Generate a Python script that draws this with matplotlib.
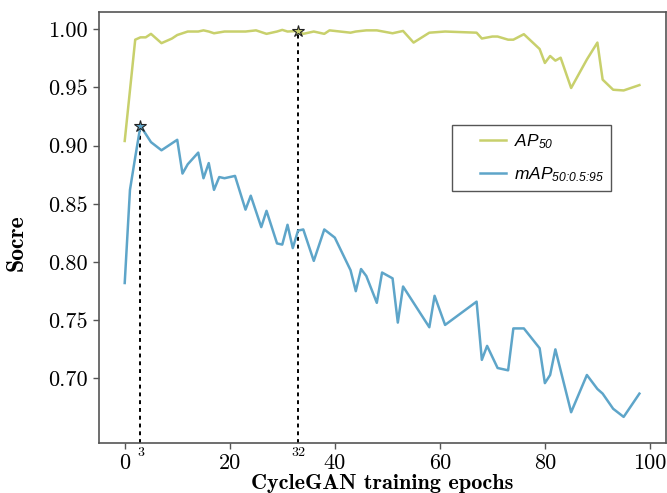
import matplotlib
matplotlib.use("Agg")
import matplotlib.pyplot as plt
from matplotlib.lines import Line2D
from matplotlib.legend_handler import HandlerLine2D
from matplotlib.ticker import FormatStrFormatter

# AP50 curve (epoch, score)
ap_epochs = [0, 2, 3, 4, 5, 7, 9, 10, 12, 14, 15, 16, 17, 19, 23, 25, 27, 29, 30, 31,
             33, 34, 36, 38, 39, 41, 43, 44, 46, 48, 51, 53, 55, 58, 61, 67, 68, 70, 71,
             73, 74, 76, 79, 80, 81, 82, 83, 85, 88, 90, 91, 93, 95, 98]
ap_scores = [0.904, 0.991, 0.993, 0.993, 0.996, 0.988, 0.992, 0.995, 0.998, 0.998, 0.999,
             0.998, 0.9965, 0.998, 0.998, 0.999, 0.996, 0.998, 0.9994, 0.998, 0.9985, 0.996,
             0.998, 0.996, 0.999, 0.998, 0.997, 0.998, 0.999, 0.999, 0.9965, 0.9985, 0.9885,
             0.997, 0.998, 0.997, 0.992, 0.9937, 0.9937, 0.991, 0.991, 0.9957, 0.983, 0.971,
             0.977, 0.973, 0.9755, 0.9495, 0.974, 0.9885, 0.9567, 0.948, 0.9474, 0.952]

# mAP50:0.5:95 curve
map_epochs = [0, 1, 2, 3, 5, 7, 10, 11, 12, 14, 15, 16, 17, 18, 19, 21, 23, 24, 26, 27, 29,
              30, 31, 32, 33, 34, 36, 38, 40, 43, 44, 45, 46, 48, 49, 51, 52, 53, 58, 59, 61,
              67, 68, 69, 71, 73, 74, 76, 79, 80, 81, 82, 85, 88, 90, 91, 93, 95, 98]
map_scores = [0.782, 0.862, 0.890, 0.917, 0.903, 0.896, 0.905, 0.876, 0.884, 0.894, 0.872,
              0.885, 0.862, 0.873, 0.872, 0.874, 0.845, 0.857, 0.830, 0.844, 0.816, 0.815,
              0.832, 0.812, 0.827, 0.828, 0.801, 0.828, 0.821, 0.793, 0.775, 0.794, 0.788,
              0.765, 0.791, 0.786, 0.748, 0.779, 0.744, 0.771, 0.746, 0.766, 0.716, 0.728,
              0.709, 0.707, 0.743, 0.743, 0.726, 0.696, 0.703, 0.725, 0.671, 0.703, 0.691,
              0.687, 0.674, 0.667, 0.687]

# best points: (x position, score, tick text)
best_map = (3, 0.917, "3")
best_ap = (33, 0.9985, "32")

YELLOW = "#c8d06c"
BLUE = "#5ea5c9"
FRAME = "#555555"


def main() -> None:
    plt.rcParams["mathtext.fontset"] = "custom"
    plt.rcParams["mathtext.it"] = "Liberation Sans:italic"
    plt.rcParams["mathtext.rm"] = "Liberation Sans:italic"

    fig = plt.figure(figsize=(6.67, 4.93), dpi=100)
    ax = fig.add_axes([0.148, 0.1024, 0.850, 0.8738])

    ax.plot(ap_epochs, ap_scores, color=YELLOW, lw=1.8, label=r"$AP_{\text{50}}$")
    ax.plot(map_epochs, map_scores, color=BLUE, lw=1.8, label=r"$mAP_{\text{50:0.5:95}}$")

    ymin, ymax = 0.645, 1.015
    for (bx, by, _), col in [(best_map, BLUE), (best_ap, YELLOW)]:
        ax.plot([bx, bx], [ymin, by], color="black", lw=1.4, ls=(0, (2, 2)), zorder=1)
        ax.plot(bx, by, marker="*", ms=9, mfc=col, mec="#222222", mew=0.8, zorder=3)

    ax.set_xlim(-4.95, 103.0)
    ax.set_ylim(ymin, ymax)
    ax.set_xticks([0, 20, 40, 60, 80, 100])
    ax.set_yticks([0.70, 0.75, 0.80, 0.85, 0.90, 0.95, 1.00])
    ax.yaxis.set_major_formatter(FormatStrFormatter("%.2f"))
    ax.set_xticks([best_map[0], best_ap[0]], minor=True)
    ax.set_xticklabels([best_map[2], best_ap[2]], minor=True)

    for lab in ax.get_xticklabels() + ax.get_yticklabels():
        lab.set_fontfamily("cmr10")
    for lab in ax.get_xticklabels(minor=True):
        lab.set_fontfamily("cmr10")
    ax.tick_params(which="major", labelsize=16, length=4, width=1, color=FRAME, pad=4)
    ax.tick_params(axis="x", which="minor", labelsize=10, length=0, pad=3)
    for sp in ax.spines.values():
        sp.set_color(FRAME)
        sp.set_linewidth(1.2)

    ax.set_xlabel("CycleGAN training epochs", fontfamily="cmb10", fontsize=16)
    ax.xaxis.set_label_coords(0.5, -0.072)
    ax.set_ylabel("Socre", fontfamily="cmb10", fontsize=17)
    ax.yaxis.set_label_coords(-0.125, 0.463)

    leg = ax.legend(loc="upper left", bbox_to_anchor=(0.624, 0.737), borderaxespad=0,
                    fontsize=12.5, fancybox=False, edgecolor=FRAME, framealpha=1,
                    handlelength=2.7, handletextpad=0.45, labelspacing=0.85,
                    handler_map={Line2D: HandlerLine2D(xpad=1.2)})
    leg.get_frame().set_linewidth(1.0)

    fig.savefig("out.png", dpi=100)


if __name__ == "__main__":
    main()
